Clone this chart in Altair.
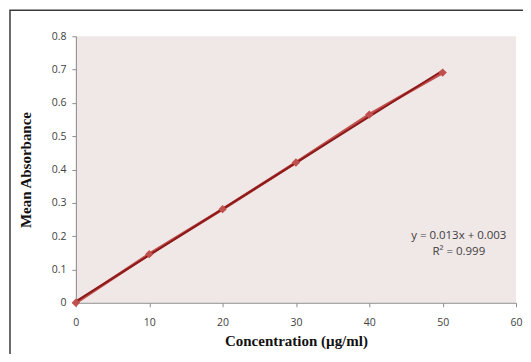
import altair as alt
import pandas as pd

conc = [0, 10, 20, 30, 40, 50]
absorb = [0.0, 0.146, 0.281, 0.421, 0.565, 0.691]
eq_lines = ["y = 0.013x + 0.003", "R² = 0.999"]
eq_x = [52.2, 52.2]
eq_y = [0.2, 0.152]
x_ticks = [0, 10, 20, 30, 40, 50, 60]
y_ticks = [0, 0.1, 0.2, 0.3, 0.4, 0.5, 0.6, 0.7, 0.8]

df = pd.DataFrame({"Concentration": conc, "Absorbance": absorb})
eq = pd.DataFrame({"label": eq_lines, "x": eq_x, "y": eq_y})

W, H = 441, 267

xs = alt.Scale(domain=[0, 60], nice=False)
ys = alt.Scale(domain=[0, 0.8], nice=False)

x_axis = alt.Axis(values=x_ticks, title="Concentration (µg/ml)", labelFlush=False,
                  grid=False, tickSize=4, labelPadding=11, titlePadding=5)
y_axis = alt.Axis(values=y_ticks, title="Mean Absorbance", labelFlush=False,
                  grid=False, tickSize=4, labelPadding=6, titlePadding=18,
                  labelExpr="datum.value == 0 ? '0' : format(datum.value, '.1f')")

X = alt.X("Concentration:Q", scale=xs, axis=x_axis)
Y = alt.Y("Absorbance:Q", scale=ys, axis=y_axis)

base = alt.Chart(df)

border = alt.Chart(pd.DataFrame({"a": [0]})).mark_rect(
    fill=None, stroke="#3a3a3a", strokeWidth=1.5, clip=False
).encode(x=alt.value(-66), x2=alt.value(470), y=alt.value(-26), y2=alt.value(340))

line = base.mark_line(color="#c0504d", strokeWidth=3).encode(x=X, y=Y)
pts = base.mark_point(shape="diamond", filled=True, size=70, color="#c0504d", opacity=1).encode(x=X, y=Y)
trend = base.transform_regression("Concentration", "Absorbance").mark_line(
    color="#8b1a1a", strokeWidth=2
).encode(x=X, y=Y)
text = alt.Chart(eq).mark_text(font="Open Sans", fontSize=11.5, color="#404040", align="center").encode(
    x=alt.X("x:Q", scale=xs, axis=x_axis),
    y=alt.Y("y:Q", scale=ys, axis=y_axis),
    text="label:N",
)

chart = alt.layer(border, line, trend, pts, text).properties(
    width=W, height=H,
    autosize=alt.AutoSizeParams(type="none"),
    padding={"left": 68, "top": 28, "right": 7, "bottom": 51},
    background="white",
).configure_view(
    fill="#f0e7e7", stroke=None
).configure_axis(
    domainColor="#8c8c8c", tickColor="#8c8c8c", labelColor="#404040",
    labelFont="Open Sans", labelFontSize=10.5,
    titleFont="Liberation Serif", titleFontSize=15, titleFontWeight="bold", titleColor="#111111",
)

chart.save("out.html", embed_options={"renderer": "svg", "actions": False})
